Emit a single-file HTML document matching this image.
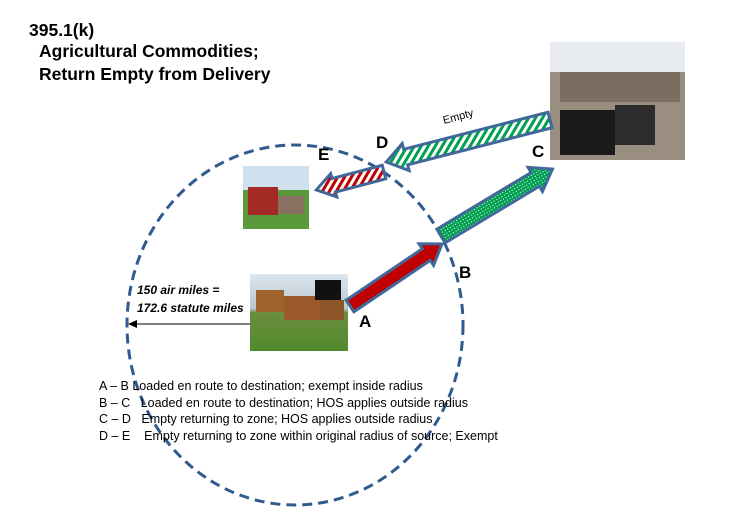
<!DOCTYPE html>
<html><head><style>
body{margin:0;width:731px;height:513px;background:#fff;overflow:hidden;position:relative;font-family:"Liberation Sans",sans-serif}
.t{position:absolute;font-weight:bold;color:#000}
</style></head><body>
<svg width="731" height="513" style="position:absolute;left:0;top:0">
<defs>
<pattern id="gs" width="6" height="6" patternUnits="userSpaceOnUse" patternTransform="rotate(45)"><rect width="6" height="6" fill="#fff"/><rect width="3" height="6" fill="#00a050"/></pattern>
<pattern id="rs" width="6" height="6" patternUnits="userSpaceOnUse" patternTransform="rotate(45)"><rect width="6" height="6" fill="#fff"/><rect width="3" height="6" fill="#c00000"/></pattern>
<pattern id="gd" width="3" height="3" patternUnits="userSpaceOnUse"><rect width="3" height="3" fill="#00a050"/><rect width="1" height="1" fill="#fff"/></pattern>
<linearGradient id="sky" x1="0" y1="0" x2="0" y2="1"><stop offset="0" stop-color="#dde6ee"/><stop offset="0.45" stop-color="#b9c7cf"/><stop offset="0.5" stop-color="#6c8e3f"/><stop offset="1" stop-color="#4f8a2c"/></linearGradient>
</defs>
<ellipse cx="295" cy="325" rx="168" ry="180" fill="none" stroke="#2f5b8f" stroke-width="3" stroke-dasharray="10,6"/>
<line x1="340" y1="324" x2="133" y2="324" stroke="#000" stroke-width="1"/>
<polygon points="128,324 137,320 137,328" fill="#000"/>
<rect x="243" y="166" width="66" height="63" fill="#5a9a3a"/>
<rect x="243" y="166" width="66" height="24" fill="#cfe0ee"/>
<rect x="248" y="187" width="30" height="28" fill="#a32a25"/>
<rect x="278" y="196" width="26" height="18" fill="#8a7060"/>
<rect x="250" y="274" width="98" height="77" fill="url(#sky)"/>
<rect x="256" y="290" width="28" height="22" fill="#a0622e"/><rect x="284" y="296" width="40" height="24" fill="#9a5a2a"/><rect x="315" y="280" width="26" height="20" fill="#111"/><rect x="320" y="300" width="24" height="20" fill="#8c5628"/>
<rect x="550" y="42" width="135" height="118" fill="#9a8e80"/>
<rect x="550" y="42" width="135" height="30" fill="#e8ecf0"/>
<rect x="560" y="72" width="120" height="30" fill="#7a6e60"/>
<rect x="560" y="110" width="55" height="45" fill="#1b1b1b"/>
<rect x="615" y="105" width="40" height="40" fill="#2c2c2c"/>
<g stroke="#41689a" stroke-width="3" stroke-linejoin="miter">
<g transform="translate(350,306) rotate(-34)"><polygon points="0,-7 92,-7 92,-13 111,0 92,13 92,7 0,7" fill="#c00000"/></g>
<g transform="translate(441,236) rotate(-31)"><polygon points="0,-8 110,-8 110,-14 130,0 110,14 110,8 0,8" fill="url(#gd)"/></g>
<g transform="translate(550,120) rotate(165.6)"><polygon points="0,-8 149,-8 149,-14 169,0 149,14 149,8 0,8" fill="url(#gs)"/></g>
<g transform="translate(384,172) rotate(165.2)"><polygon points="0,-7 52,-7 52,-12 70,0 52,12 52,7 0,7" fill="url(#rs)"/></g>
</g>
<text x="444" y="124" font-family="Liberation Sans,sans-serif" font-size="11" transform="rotate(-15 444 124)">Empty</text>
</svg>
<div class="t" style="left:29px;top:20px;font-size:17.5px">395.1(k)</div>
<div class="t" style="left:39px;top:40px;font-size:17.5px;line-height:23px">Agricultural Commodities;<br>Return Empty from Delivery</div>
<div class="t" style="left:376px;top:133px;font-size:17px">D</div>
<div class="t" style="left:318px;top:145px;font-size:17px">E</div>
<div class="t" style="left:532px;top:142px;font-size:17px">C</div>
<div class="t" style="left:459px;top:263px;font-size:17px">B</div>
<div class="t" style="left:359px;top:312px;font-size:17px">A</div>
<div style="position:absolute;left:137px;top:281px;font-size:12px;font-style:italic;font-weight:bold;line-height:18px">150 air miles =<br>172.6 statute miles</div>
<div style="position:absolute;left:99px;top:378px;font-size:12.5px;line-height:16.5px;white-space:pre">A – B Loaded en route to destination; exempt inside radius
B – C   Loaded en route to destination; HOS applies outside radius
C – D   Empty returning to zone; HOS applies outside radius
D – E    Empty returning to zone within original radius of source; Exempt</div>
</body></html>
